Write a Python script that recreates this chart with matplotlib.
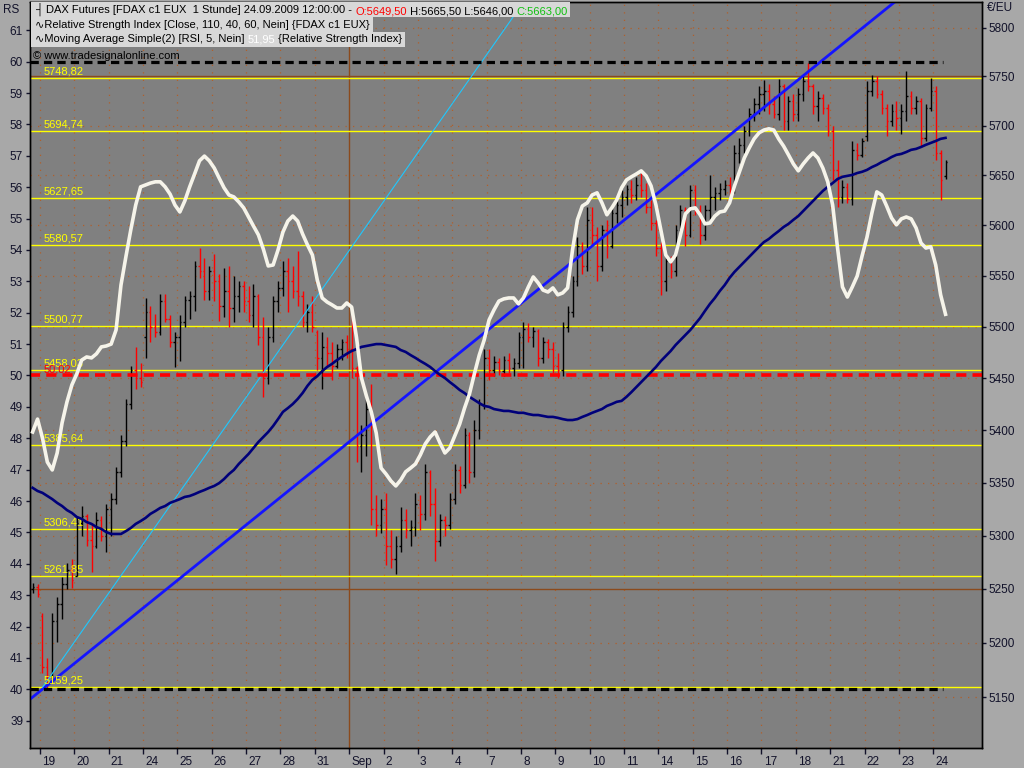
import numpy as np
import matplotlib
matplotlib.use('Agg')
import matplotlib.pyplot as plt
from matplotlib.collections import LineCollection
from matplotlib.patches import Rectangle
from matplotlib.text import Annotation
from matplotlib.ticker import FixedLocator, NullLocator, FuncFormatter
import matplotlib.transforms as mtransforms

plt.rcParams['font.family'] = ['Liberation Sans', 'DejaVu Sans']

# ---------------- data ----------------
day_labels = ['19', '20', '21', '24', '25', '26', '27', '28', '31', 'Sep', '2', '3', '4', '7',
              '8', '9', '10', '11', '14', '15', '16', '17', '18', '21', '22', '23', '24']

# 2-hour OHLC bars: 2 on Aug 18 (late), 7 per day Aug 19 .. Sep 23, 3 on Sep 24
bar_day = [-1] * 2 + [d for d in range(26) for _ in range(7)] + [26] * 3
bar_k = [5, 6] + [k for _ in range(26) for k in range(7)] + [0, 1, 2]

opens = [5250, 5252,
         5225, 5178, 5170, 5220, 5236, 5255, 5268,
         5262, 5312, 5318, 5296, 5290, 5315, 5300,
         5325, 5335, 5360, 5390, 5425, 5458, 5450,
         5490, 5515, 5500, 5495, 5525, 5508, 5485,
         5490, 5505, 5526, 5530, 5560, 5555, 5535,
         5555, 5545, 5520, 5535, 5518, 5530, 5540,
         5525, 5512, 5530, 5490, 5450, 5490, 5525,
         5538, 5555, 5545, 5535, 5530, 5505, 5515,
         5495, 5470, 5480, 5475, 5462, 5478, 5485,
         5478, 5460, 5385, 5395, 5420, 5325, 5310,
         5325, 5290, 5278, 5290, 5315, 5305, 5308,
         5330, 5320, 5360, 5330, 5295, 5315, 5310,
         5335, 5362, 5348, 5395, 5360, 5400, 5425,
         5470, 5458, 5466, 5457, 5468, 5460, 5465,
         5490, 5498, 5490, 5496, 5470, 5485, 5478,
         5462, 5458, 5500, 5515, 5545, 5580, 5560,
         5605, 5590, 5560, 5595, 5580, 5612, 5620,
         5628, 5636, 5630, 5640, 5635, 5618, 5602,
         5578, 5545, 5565, 5555, 5595, 5615, 5590,
         5635, 5615, 5590, 5615, 5628, 5632, 5636,
         5640, 5636, 5672, 5680, 5695, 5712, 5722,
         5732, 5735, 5722, 5712, 5740, 5705, 5725,
         5712, 5732, 5745, 5740, 5720, 5728, 5718,
         5695, 5655, 5628, 5638, 5626, 5675, 5670,
         5690, 5735, 5745, 5732, 5718, 5705, 5715,
         5708, 5715, 5730, 5718, 5725, 5688, 5718,
         5735, 5672, 5649.5]
highs = [5256, 5255,
         5228, 5186, 5228, 5243, 5261, 5274, 5278,
         5318, 5328, 5320, 5312, 5322, 5318, 5330,
         5340, 5365, 5395, 5430, 5462, 5480, 5465,
         5528, 5520, 5513, 5532, 5532, 5512, 5495,
         5512, 5530, 5535, 5565, 5578, 5568, 5560,
         5572, 5552, 5558, 5560, 5550, 5545, 5545,
         5540, 5542, 5532, 5510, 5500, 5530, 5545,
         5565, 5568, 5560, 5575, 5535, 5522, 5530,
         5497, 5495, 5490, 5485, 5483, 5488, 5492,
         5512, 5462, 5405, 5432, 5445, 5338, 5335,
         5340, 5305, 5300, 5327, 5325, 5315, 5340,
         5338, 5368, 5362, 5345, 5320, 5318, 5340,
         5368, 5366, 5402, 5398, 5410, 5430, 5478,
         5478, 5472, 5470, 5472, 5475, 5470, 5495,
         5505, 5504, 5500, 5498, 5490, 5488, 5485,
         5475, 5505, 5520, 5550, 5588, 5584, 5618,
         5618, 5598, 5600, 5605, 5620, 5628, 5635,
         5640, 5645, 5648, 5652, 5642, 5625, 5605,
         5584, 5570, 5570, 5600, 5620, 5618, 5640,
         5640, 5620, 5620, 5650, 5638, 5642, 5645,
         5648, 5680, 5688, 5700, 5718, 5728, 5740,
         5746, 5742, 5730, 5747, 5742, 5730, 5732,
         5738, 5750, 5764, 5742, 5735, 5732, 5722,
         5700, 5665, 5645, 5642, 5685, 5682, 5688,
         5745, 5752, 5750, 5736, 5722, 5722, 5725,
         5722, 5756, 5735, 5730, 5728, 5722, 5748,
         5740, 5675, 5665.5]
lows = [5246, 5243,
        5172, 5159, 5168, 5201, 5222, 5250, 5251,
        5262, 5300, 5290, 5266, 5288, 5295, 5285,
        5300, 5330, 5355, 5385, 5420, 5440, 5442,
        5470, 5485, 5490, 5492, 5505, 5480, 5461,
        5467, 5500, 5508, 5516, 5548, 5526, 5526,
        5525, 5506, 5510, 5500, 5505, 5515, 5515,
        5505, 5500, 5482, 5432, 5445, 5485, 5515,
        5530, 5515, 5528, 5520, 5500, 5495, 5495,
        5458, 5440, 5462, 5448, 5460, 5468, 5470,
        5450, 5370, 5360, 5375, 5310, 5300, 5302,
        5272, 5270, 5264, 5285, 5298, 5290, 5300,
        5305, 5315, 5318, 5276, 5290, 5300, 5306,
        5330, 5340, 5345, 5350, 5355, 5392, 5420,
        5448, 5452, 5453, 5452, 5455, 5452, 5460,
        5460, 5485, 5480, 5462, 5465, 5470, 5455,
        5450, 5452, 5495, 5510, 5540, 5552, 5555,
        5580, 5545, 5555, 5568, 5578, 5602, 5608,
        5620, 5622, 5625, 5628, 5612, 5595, 5570,
        5531, 5535, 5548, 5550, 5590, 5580, 5588,
        5610, 5582, 5585, 5605, 5615, 5625, 5630,
        5630, 5632, 5662, 5672, 5690, 5705, 5712,
        5715, 5712, 5708, 5706, 5696, 5696, 5705,
        5705, 5725, 5735, 5712, 5705, 5712, 5690,
        5645, 5618, 5622, 5622, 5620, 5665, 5668,
        5685, 5730, 5728, 5712, 5690, 5700, 5696,
        5692, 5705, 5712, 5712, 5678, 5685, 5715,
        5665, 5625, 5646]
closes = [5252, 5245,
          5178, 5170, 5220, 5236, 5255, 5268, 5258,
          5312, 5318, 5296, 5290, 5315, 5300, 5325,
          5335, 5360, 5390, 5425, 5458, 5450, 5446,
          5515, 5500, 5495, 5525, 5508, 5485, 5490,
          5505, 5526, 5530, 5560, 5555, 5535, 5555,
          5545, 5520, 5535, 5518, 5530, 5540, 5525,
          5512, 5530, 5490, 5450, 5490, 5525, 5538,
          5555, 5545, 5535, 5530, 5505, 5515, 5500,
          5470, 5480, 5475, 5462, 5478, 5485, 5478,
          5460, 5385, 5395, 5420, 5325, 5310, 5325,
          5290, 5278, 5290, 5315, 5305, 5308, 5330,
          5320, 5360, 5330, 5295, 5315, 5310, 5335,
          5362, 5348, 5395, 5360, 5400, 5425, 5470,
          5458, 5466, 5457, 5468, 5460, 5465, 5490,
          5498, 5490, 5496, 5470, 5485, 5478, 5462,
          5458, 5500, 5515, 5545, 5580, 5560, 5605,
          5590, 5560, 5595, 5580, 5612, 5620, 5628,
          5636, 5630, 5640, 5635, 5618, 5602, 5578,
          5545, 5565, 5555, 5595, 5615, 5590, 5635,
          5615, 5590, 5615, 5628, 5632, 5636, 5640,
          5636, 5672, 5680, 5695, 5712, 5722, 5732,
          5735, 5722, 5712, 5740, 5705, 5725, 5712,
          5732, 5745, 5740, 5720, 5728, 5718, 5695,
          5655, 5628, 5638, 5626, 5675, 5670, 5685,
          5735, 5745, 5732, 5718, 5705, 5715, 5708,
          5715, 5730, 5718, 5725, 5688, 5718, 5735,
          5672, 5645, 5663]

# Moving Average Simple(2) of RSI(5)  (white)
rsi_ma = [48.20, 48.61,
          48.01, 47.24, 46.99, 47.53, 48.49, 49.16, 49.70,
          50.05, 50.49, 50.59, 50.56, 50.69, 50.91, 50.94,
          51.00, 51.45, 52.88, 53.78, 54.64, 55.43, 56.01,
          56.07, 56.13, 56.17, 56.17, 56.01, 55.78, 55.43,
          55.21, 55.56, 56.01, 56.42, 56.84, 56.99, 56.84,
          56.61, 56.29, 55.98, 55.75, 55.69, 55.53, 55.34,
          55.05, 54.76, 54.48, 54.03, 53.49, 53.52, 54.00,
          54.57, 54.92, 55.08, 54.92, 54.51, 54.16, 53.84,
          53.04, 52.47, 52.34, 52.25, 52.15, 52.15, 52.31,
          52.18, 51.20, 49.92, 49.35, 48.84, 48.17, 47.05,
          46.86, 46.64, 46.48, 46.67, 46.93, 47.05, 47.18,
          47.47, 47.82, 48.04, 48.20, 47.85, 47.53, 47.69,
          48.07, 48.45, 48.96, 49.41, 50.05, 50.65, 51.13,
          51.77, 52.09, 52.37, 52.44, 52.47, 52.47, 52.28,
          52.47, 52.82, 53.14, 52.95, 52.72, 52.66, 52.79,
          52.57, 52.63, 52.79, 54.00, 54.96, 55.40, 55.50,
          55.75, 55.82, 55.50, 55.12, 55.34, 55.59, 55.98,
          56.23, 56.33, 56.42, 56.52, 56.36, 56.04, 55.43,
          54.64, 53.84, 53.62, 53.84, 54.48, 55.15, 55.31,
          55.34, 55.12, 54.83, 54.86, 55.08, 55.21, 55.24,
          55.50, 56.04, 56.49, 56.93, 57.25, 57.54, 57.73,
          57.82, 57.86, 57.82, 57.54, 57.31, 57.03, 56.74,
          56.52, 56.74, 56.93, 57.09, 56.93, 56.61, 56.17,
          55.43, 54.06, 52.82, 52.50, 52.82, 53.17, 53.81,
          54.41, 55.18, 55.85, 55.75, 55.40, 55.02, 54.80,
          54.99, 55.05, 54.99, 54.70, 54.22, 54.06, 54.10,
          53.52, 52.57, 51.95]

# Relative Strength Index (110)  (navy)
rsi_long = [46.42, 46.32,
            46.26, 46.16, 46.06, 45.94, 45.84, 45.71, 45.62,
            45.49, 45.43, 45.33, 45.27, 45.17, 45.11, 45.01,
            44.95, 44.95, 44.95, 45.04, 45.14, 45.27, 45.36,
            45.46, 45.59, 45.68, 45.78, 45.84, 45.94, 46.00,
            46.06, 46.13, 46.16, 46.22, 46.29, 46.35, 46.42,
            46.48, 46.57, 46.70, 46.86, 46.99, 47.18, 47.34,
            47.50, 47.69, 47.88, 48.04, 48.20, 48.39, 48.61,
            48.84, 48.96, 49.09, 49.25, 49.44, 49.67, 49.86,
            49.98, 50.14, 50.27, 50.37, 50.49, 50.59, 50.69,
            50.78, 50.84, 50.91, 50.94, 50.97, 51.00, 51.00,
            50.97, 50.94, 50.91, 50.81, 50.75, 50.65, 50.56,
            50.46, 50.37, 50.27, 50.14, 50.02, 49.92, 49.79,
            49.67, 49.54, 49.44, 49.32, 49.22, 49.12, 49.03,
            49.00, 48.93, 48.90, 48.87, 48.87, 48.84, 48.81,
            48.81, 48.77, 48.74, 48.74, 48.71, 48.68, 48.68,
            48.65, 48.61, 48.58, 48.58, 48.61, 48.68, 48.74,
            48.81, 48.87, 48.93, 49.03, 49.09, 49.16, 49.19,
            49.32, 49.47, 49.63, 49.79, 49.95, 50.11, 50.27,
            50.46, 50.62, 50.78, 50.97, 51.13, 51.29, 51.45,
            51.64, 51.83, 52.06, 52.28, 52.47, 52.69, 52.88,
            53.11, 53.30, 53.46, 53.62, 53.78, 53.94, 54.10,
            54.25, 54.35, 54.48, 54.60, 54.73, 54.83, 54.96,
            55.08, 55.24, 55.40, 55.56, 55.72, 55.88, 56.01,
            56.13, 56.26, 56.33, 56.36, 56.39, 56.45, 56.49,
            56.55, 56.64, 56.71, 56.80, 56.87, 56.96, 57.03,
            57.06, 57.12, 57.19, 57.22, 57.28, 57.35, 57.41,
            57.47, 57.54, 57.57]

level_prices = [5748.82, 5694.74, 5627.65, 5580.57, 5500.77, 5458.03,
                5385.64, 5306.41, 5261.85, 5159.25]
level_labels = ['5748,82', '5694,74', '5627,65', '5580,57', '5500,77', '5458,03',
                '5385,64', '5306,41', '5261,85', '5159,25']
rsi_upper, rsi_mid, rsi_lower = 60, 50, 40
rsi_mid_label = '50,02'

# trend lines: (hour-slot, price) anchor points
trend_main_x = [2, 314.6]
trend_main_p = [5159.25, 5758]
trend_fast_x = [1, 105.9]
trend_fast_p = [5159, 5506]

price_ticks = list(range(5150, 5801, 50))
rsi_ticks = list(range(39, 62))

# ---------------- figure ----------------
W, H = 1024, 768
fig = plt.figure(figsize=(W / 100, H / 100), dpi=100, facecolor='#a8a8a8')
ax = fig.add_axes([30 / W, 20 / H, 952 / W, 746 / H])
ax.set_facecolor('#808080')
ax_r = ax.twinx()

XMIN, XMAX = -4.07, 383.86
ax.set_xlim(XMIN, XMAX)
ax.set_yscale('log')
ax.set_ylim(5103.9, 5826.5)
ax_r.set_ylim(38.13, 61.90)

slots = np.array([14 * d + 1 + 2 * k for d, k in zip(bar_day, bar_k)], float)

# grid
grid_col = '#b0602a'
day_pos = [14 * i for i in range(len(day_labels))]
for pos, lab in zip(day_pos, day_labels):
    if lab == 'Sep':
        ax.axvline(pos, color='#8b4a1c', lw=1.0, zorder=0.5)
    else:
        ax.axvline(pos, color=grid_col, lw=0.9, ls=(0, (1, 5)), zorder=0.5)
for p in price_ticks:
    if p in (5250, 5750):
        ax.axhline(p, color='#8b4a1c', lw=1.0, zorder=0.5)
    else:
        ax.axhline(p, color=grid_col, lw=0.9, ls=(0, (1, 5)), zorder=0.5)

# price levels
lab_off = mtransforms.ScaledTranslation(0, 1 / 72, fig.dpi_scale_trans)
for p, lab in zip(level_prices, level_labels):
    ax.axhline(p, color='#ffff00', lw=1.0, zorder=1)
    ax.text(1.63, p, lab, color='#ffff00', fontsize=8, va='bottom', ha='left',
            zorder=4, transform=ax.transData + lab_off)

# OHLC bars
segs, cols = [], []
tick = 0.65
for x, o, h, l, c in zip(slots, opens, highs, lows, closes):
    col = '#ff0000' if c < o else '#000000'
    segs += [[(x, l), (x, h)], [(x - tick, o), (x, o)], [(x, c), (x + tick, c)]]
    cols += [col] * 3
ax.add_collection(LineCollection(segs, colors=cols, linewidths=1.0, zorder=2))


def trend(xs, ps, x0, x1, **kw):
    lp = np.log(ps)
    slope = (lp[1] - lp[0]) / (xs[1] - xs[0])
    xe = np.array([x0, x1])
    ax.plot(xe, np.exp(lp[0] + slope * (xe - xs[0])), **kw)


trend(trend_main_x, trend_main_p, XMIN, XMAX, color='#1414ff', lw=2.0, zorder=3,
      solid_capstyle='butt')
trend(trend_fast_x, trend_fast_p, trend_fast_x[0], XMAX, color='#1ec8ff', lw=0.8, zorder=3)

# RSI axis content
end_dash = (943 - 40) / 2.454
ax_r.hlines([rsi_upper, rsi_lower], XMIN, end_dash, colors='black', lw=2.3,
            linestyles=[(0, (2.6, 1.6))], zorder=2)
ax_r.axhline(rsi_mid, color='#ff0000', lw=2.6, ls=(0, (2.8, 1.7)), zorder=2)
ax_r.text(1.63, rsi_mid, rsi_mid_label, color='#ff0000', fontsize=8, va='bottom',
          ha='left', zorder=4, transform=ax_r.transData + lab_off)
ax_r.plot(slots, rsi_long, color='#00007a', lw=1.9, zorder=3)
ax_r.plot(slots, rsi_ma, color='#f6f4ea', lw=2.6, zorder=4, solid_joinstyle='round')

# axes / ticks
for a in (ax, ax_r):
    for s in a.spines.values():
        s.set_color('black')
        s.set_linewidth(1.0)
tick_col = '#12122a'
ax.yaxis.set_major_locator(FixedLocator(price_ticks))
ax.yaxis.set_minor_locator(NullLocator())
ax.yaxis.set_major_formatter(FuncFormatter(lambda v, p: f'{v:.0f}'))
ax.yaxis.set_ticks_position('right')
ax.tick_params(axis='y', which='both', right=True, left=False, labelright=True,
               labelleft=False, length=3, width=1, pad=2, labelsize=8.5,
               color=tick_col, labelcolor=tick_col)
ax_r.yaxis.set_ticks_position('left')
ax_r.yaxis.set_major_locator(FixedLocator(rsi_ticks))
ax_r.yaxis.set_minor_locator(NullLocator())
ax_r.tick_params(axis='y', left=True, right=False, labelleft=True, labelright=False,
                 length=3, width=1, pad=2, labelsize=8.5, color=tick_col, labelcolor=tick_col)
ax_r.xaxis.set_visible(False)

ax.set_xticks(day_pos)
ax.set_xticklabels(day_labels)
ax.tick_params(axis='x', length=4, width=1, pad=2, labelsize=8.5, color=tick_col,
               labelcolor=tick_col)
xoff = mtransforms.ScaledTranslation(1.5 / 72, 0, fig.dpi_scale_trans)
for lab in ax.get_xticklabels():
    lab.set_horizontalalignment('left')
    lab.set_transform(lab.get_transform() + xoff)

fig.text(3 / W, 1 - 10 / H, 'RS', fontsize=8.5, color=tick_col, va='center', ha='left')
fig.text(987 / W, 1 - 8 / H, '€/EU', fontsize=8.5, color=tick_col, va='center', ha='left')

# ---------------- header ----------------
fs_h = 8
header_lines = [
    [('┤ DAX Futures [FDAX c1 EUX  1 Stunde] 24.09.2009 12:00:00 - ', 'black'),
     ('O:5649,50', '#ff0000'), (' H:5665,50 L:5646,00 ', 'black'), ('C:5663,00', '#10c010')],
    [('∿Relative Strength Index [Close, 110, 40, 60, Nein] {FDAX c1 EUX}', 'black')],
    [('∿Moving Average Simple(2) [RSI, 5, Nein] ', 'black'), ('51,95', 'white'),
     (' {Relative Strength Index}', 'black')],
]
row_centers = [9.5, 24.5, 39.5]
last_pieces = []
for pieces, yc in zip(header_lines, row_centers):
    t0 = fig.text(35 / W, 1 - yc / H, pieces[0][0], color=pieces[0][1], fontsize=fs_h,
                  va='center', ha='left', zorder=6)
    prev = t0
    for s, c in pieces[1:]:
        a = Annotation(s, xy=(1, 0), xycoords=prev, va='bottom', ha='left', color=c,
                       fontsize=fs_h, zorder=6)
        fig.add_artist(a)
        prev = a
    last_pieces.append(prev)
fig.text(33 / W, 1 - 56 / H, '© www.tradesignalonline.com', color='black', fontsize=fs_h,
         va='center', ha='left', zorder=6)

fig.canvas.draw()
rend = fig.canvas.get_renderer()
row_edges = [(2, 17), (17, 32), (32, 47)]
for lp, (y0, y1) in zip(last_pieces, row_edges):
    bb = lp.get_window_extent(rend)
    x_end = bb.x1 + 3
    rect = Rectangle((31 / W, 1 - y1 / H), (x_end - 31) / W, (y1 - y0) / H,
                     transform=fig.transFigure, facecolor='#d8d8d8', edgecolor='none',
                     zorder=5)
    fig.add_artist(rect)

fig.savefig('out.png', dpi=100, facecolor=fig.get_facecolor())
